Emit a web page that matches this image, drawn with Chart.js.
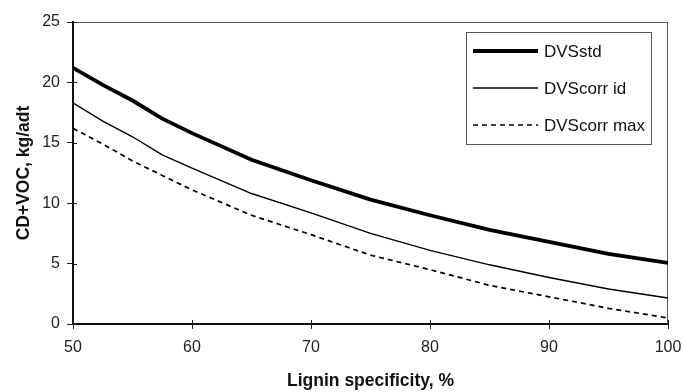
<!DOCTYPE html>
<html lang="en">
<head>
    <meta charset="UTF-8">
    <title>CD+VOC vs Lignin specificity</title>
    <script src="https://cdn.jsdelivr.net/npm/chart.js"></script>
    <style>
        html, body { margin: 0; padding: 0; background: #fff; }
        #wrap { width: 683px; height: 392px; }
    </style>
</head>
<body>
    <div id="wrap"><canvas id="vocChart" width="683" height="392"></canvas></div>
    <script>
        // lignin specificity, %
        const specificity = [50, 52.5, 55, 57.5, 60, 65, 70, 75, 80, 85, 90, 95, 100];
        // CD+VOC, kg/adt
        const dvsStd     = [21.2, 19.8, 18.5, 17.0, 15.8, 13.6, 11.9, 10.3, 9.0, 7.8, 6.8, 5.8, 5.05];
        const dvsCorrId  = [18.3, 16.8, 15.5, 14.0, 12.9, 10.8, 9.2, 7.5, 6.1, 4.9, 3.85, 2.9, 2.15];
        const dvsCorrMax = [16.2, 14.9, 13.5, 12.3, 11.1, 9.0, 7.4, 5.7, 4.5, 3.2, 2.25, 1.3, 0.5];
        const seriesNames = ['DVSstd', 'DVScorr id', 'DVScorr max'];

        const FONT = "'Liberation Sans', Arial, sans-serif";

        function pts(values) {
            return specificity.map((x, i) => ({ x: x, y: values[i] }));
        }

        // thin top/right frame and the inner half of the tick marks
        const frame = {
            id: 'frame',
            beforeDatasetsDraw(chart) {
                const { ctx, chartArea: a, scales } = chart;
                ctx.save();
                ctx.strokeStyle = '#555';
                ctx.lineWidth = 1;
                ctx.beginPath();
                ctx.moveTo(a.left, a.top + 0.5);
                ctx.lineTo(a.right - 0.5, a.top + 0.5);
                ctx.lineTo(a.right - 0.5, a.bottom);
                ctx.stroke();

                ctx.strokeStyle = '#222';
                ctx.beginPath();
                scales.x.ticks.forEach(t => {
                    const px = Math.round(scales.x.getPixelForValue(t.value)) + 0.5;
                    ctx.moveTo(px, a.bottom);
                    ctx.lineTo(px, a.bottom - 4);
                });
                scales.y.ticks.forEach(t => {
                    const py = Math.round(scales.y.getPixelForValue(t.value)) + 0.5;
                    ctx.moveTo(a.left, py);
                    ctx.lineTo(a.left + 4, py);
                });
                ctx.stroke();
                ctx.restore();
            }
        };

        // boxed legend in the top right corner of the plot
        const boxLegend = {
            id: 'boxLegend',
            afterDraw(chart) {
                const { ctx } = chart;
                const x0 = 466, y0 = 32, w = 185, h = 112;
                ctx.save();
                ctx.fillStyle = '#fff';
                ctx.fillRect(x0, y0, w, h);
                ctx.strokeStyle = '#555';
                ctx.lineWidth = 1;
                ctx.strokeRect(x0 + 0.5, y0 + 0.5, w, h);
                ctx.font = '17px ' + FONT;
                ctx.textBaseline = 'middle';
                chart.data.datasets.forEach((ds, i) => {
                    const y = y0 + 19 + i * 37;
                    ctx.strokeStyle = '#000';
                    ctx.lineWidth = ds.borderWidth;
                    ctx.setLineDash(ds.borderDash || []);
                    ctx.beginPath();
                    ctx.moveTo(x0 + 7, y);
                    ctx.lineTo(x0 + 72, y);
                    ctx.stroke();
                    ctx.setLineDash([]);
                    ctx.fillStyle = '#111';
                    ctx.fillText(ds.label, x0 + 78, y + 1);
                });
                ctx.restore();
            }
        };

        const ctx = document.getElementById('vocChart').getContext('2d');
        new Chart(ctx, {
            type: 'line',
            data: {
                datasets: [
                    { label: seriesNames[0], data: pts(dvsStd), borderColor: '#000', borderWidth: 3.8 },
                    { label: seriesNames[1], data: pts(dvsCorrId), borderColor: '#000', borderWidth: 1.4 },
                    { label: seriesNames[2], data: pts(dvsCorrMax), borderColor: '#000', borderWidth: 1.7, borderDash: [5, 4] }
                ]
            },
            options: {
                responsive: false,
                animation: false,
                elements: { point: { radius: 0 }, line: { tension: 0 } },
                layout: { padding: { top: 22, right: 15, left: 0, bottom: 0 } },
                plugins: { legend: { display: false }, tooltip: { enabled: false } },
                scales: {
                    x: {
                        type: 'linear',
                        min: 50, max: 100,
                        ticks: { stepSize: 10, color: '#222', font: { family: FONT, size: 16 }, padding: 9 },
                        grid: { drawOnChartArea: false, tickLength: 5, color: '#222', tickWidth: 1 },
                        border: { color: '#111', width: 2 },
                        title: { display: true, text: 'Lignin specificity, %', color: '#111',
                                 font: { family: FONT, size: 17.5, weight: 'bold' }, padding: { top: 0, bottom: 0 } },
                        afterFit(scale) {
                            scale.height = 68;
                            scale.paddingLeft = 0;
                            scale.paddingRight = 0;
                        }
                    },
                    y: {
                        min: 0, max: 25,
                        ticks: { stepSize: 5, color: '#222', font: { family: FONT, size: 16 }, padding: 7 },
                        grid: { drawOnChartArea: false, tickLength: 6, color: '#222', tickWidth: 1 },
                        border: { color: '#111', width: 2 },
                        title: { display: true, text: 'CD+VOC, kg/adt', color: '#111',
                                 font: { family: FONT, size: 17.5, weight: 'bold' }, padding: { top: 14, bottom: 0 } },
                        afterFit(scale) {
                            scale.width = 73;
                            scale.paddingTop = 0;
                            scale.paddingBottom = 0;
                        }
                    }
                }
            },
            plugins: [frame, boxLegend]
        });
    </script>
</body>
</html>
